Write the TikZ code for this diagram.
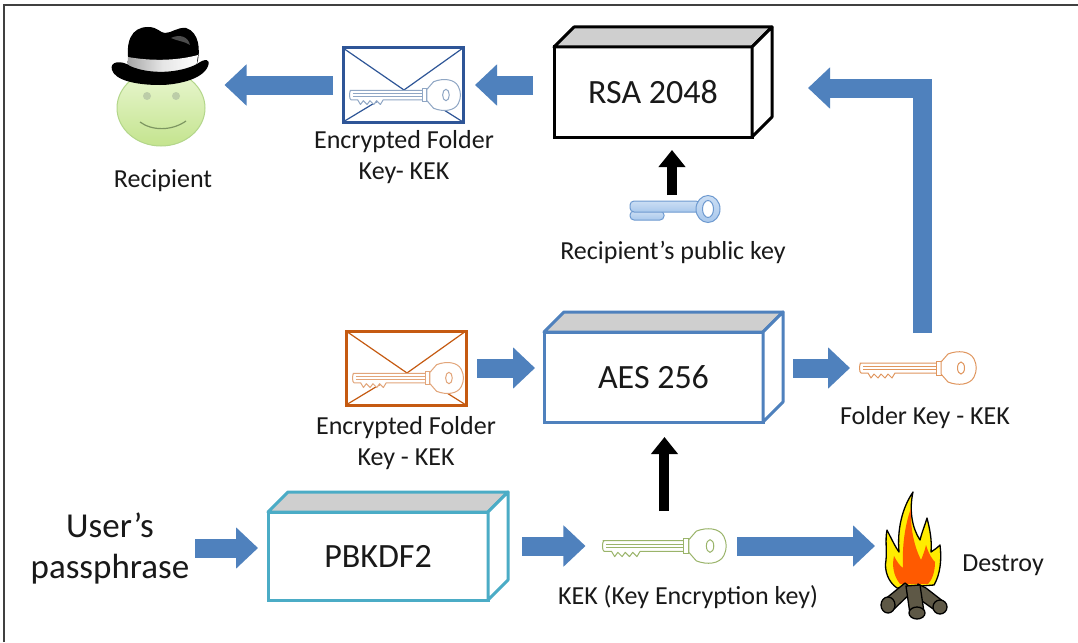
\documentclass[tikz,border=0pt]{standalone}
\usepackage{fontspec}
\setmainfont{Carlito}
\usetikzlibrary{arrows.meta,calc}

\definecolor{flowblue}{HTML}{4F81BD}
\definecolor{tealbox}{HTML}{4BACC6}
\definecolor{envblue}{HTML}{2E5597}
\definecolor{envkeyblue}{HTML}{8FA6C4}
\definecolor{envorange}{HTML}{C55A11}
\definecolor{envkeyorange}{HTML}{E2A57A}
\definecolor{keyorange}{HTML}{E0965E}
\definecolor{keygreen}{HTML}{9AB46A}
\definecolor{topgrey}{HTML}{CFCFCF}
\definecolor{pubfill}{HTML}{A9C8EC}
\definecolor{publine}{HTML}{6E9AD0}
\definecolor{facelight}{HTML}{EAF7D2}
\definecolor{facedark}{HTML}{C4E48E}
\definecolor{faceline}{HTML}{B3D68A}
\definecolor{logbrown}{HTML}{5E5846}
\definecolor{flameyellow}{HTML}{FFEC00}
\definecolor{flameorange}{HTML}{FF5A00}

\tikzset{
  fatarrow/.style={draw=flowblue, line width=19pt, line join=miter,
    -{Triangle[length=22pt,width=40pt]}},
  blackarrow/.style={draw=black, line width=10pt,
    -{Triangle[length=17pt,width=26pt]}},
  lbl/.style={font=\fontsize{26}{31}\selectfont, align=center, text=black!90},
  cubefront/.style={draw=#1, line width=3pt, fill=white, inner sep=0pt,
    outer sep=0pt, font=\fontsize{34}{40}\selectfont, text=black!90},
  % outline key drawn from its left end, pointing right
  pics/okey/.style={code={
    \draw[#1, line width=1pt, fill=white, line join=round]
      (0,-5) -- (79,-5) -- (79,5) -- (35,5) -- (32,10) -- (28,6) -- (25,10)
      -- (21,6) -- (18,10) -- (14,6) -- (11,10) -- (8,5) -- (1,5)
      .. controls (-1,5) and (-1,-5) .. (1,-5) -- cycle;
    \draw[#1, line width=0.6pt] (3,-2) -- (77,-2) (3,1.5) -- (77,1.5);
    \draw[#1, line width=1pt, fill=white] (76,-7) rectangle (81,7);
    \draw[#1, line width=1pt, fill=white, line join=round]
      (81,-6) -- (88,-14) .. controls (98,-18) and (110,-17) .. (114,-9)
      .. controls (117,-3) and (117,3) .. (114,9)
      .. controls (110,17) and (98,18) .. (88,14) -- (81,6) -- cycle;
    \draw[#1, line width=1pt] (101,0) ellipse [x radius=3.5, y radius=6];
    \node[inner sep=0pt, outer sep=0pt, minimum width=116pt,
      minimum height=30pt] (-kbox) at (58,0) {};
  }},
  % envelope with a key laid over its flap
  pics/envelope/.style 2 args={code={
    \node[inner sep=0pt, outer sep=0pt, minimum width=120pt,
      minimum height=74pt] (-box) at (0,0) {};
    \draw[#1, line width=1.2pt] (-60,-37) -- (1,5) -- (60,-37)
      (-60,37) -- (-12,8) (60,37) -- (14,8);
    \pic[scale=0.95] at (-53,10) {okey={#2}};
    \draw[#1, line width=3pt] (-60,-37) rectangle (60,37);
  }}
}

% grey top face and white side face of a box drawn behind its front node
\newcommand\boxfaces[2]{%
  \draw[#2, line width=3pt, line join=round, fill=topgrey]
    (#1.north west) -- ($(#1.north west)+(20,-20)$)
    -- ($(#1.north east)+(20,-20)$) -- (#1.north east) -- cycle;
  \draw[#2, line width=3pt, line join=round, fill=white]
    (#1.north east) -- ($(#1.north east)+(20,-20)$)
    -- ($(#1.south east)+(20,-20)$) -- (#1.south east) -- cycle;}

\begin{document}
\begin{tikzpicture}[x=1pt, y=-1pt]
  \useasboundingbox (0,0) rectangle (1078,642);
  \fill[white] (0,0) rectangle (1078,642);
  \draw[line width=1.3pt, black!75] (4,642) -- (4,5) -- (1078,5);

  % ---------- recipient ----------
  \node[inner sep=0pt, outer sep=0pt, minimum width=87pt, minimum height=78pt]
    (rec) at (161,109) {};
  \shade[top color=facelight, bottom color=facedark, draw=faceline, line width=1pt]
    (161,108) ellipse [x radius=44, y radius=38];
  \fill[faceline!80!black!60] (147,96) circle [radius=4] (176,96) circle [radius=4];
  \draw[faceline!70!black, line width=1.2pt]
    (140,122) .. controls (152,131) and (172,131) .. (186,121);
  % hat
  \fill[black] (129,64) .. controls (125,42) and (131,27) .. (148,27)
    .. controls (158,27) and (160,33) .. (165,33)
    .. controls (172,33) and (177,27) .. (186,28)
    .. controls (199,32) and (201,50) .. (197,64) -- cycle;
  \fill[black!70] (171,38) .. controls (179,34) and (188,36) .. (190,45)
    .. controls (184,41) and (177,41) .. (171,38) -- cycle;
  \shade[left color=black!35, right color=white, middle color=black!10]
    (128,57) .. controls (150,61) and (176,61) .. (198,55) -- (196,68)
    .. controls (175,73) and (150,73) .. (127,70) -- cycle;
  \fill[black] (112,70) .. controls (109,61) and (122,60) .. (130,66)
    .. controls (150,75) and (180,73) .. (197,64)
    .. controls (205,58) and (211,59) .. (208,66)
    .. controls (203,80) and (175,85) .. (160,85)
    .. controls (135,85) and (115,80) .. (112,70) -- cycle;
  \node[lbl] (reclabel) at (163,181) {Recipient};

  % ---------- envelopes ----------
  \pic (env1) at (403,85) {envelope={envblue}{envkeyblue}};
  \node[lbl] (env1label) at (404,157) {Encrypted Folder\\Key- KEK};
  \pic (env2) at (406,368) {envelope={envorange}{envkeyorange}};
  \node[lbl] (env2label) at (406,443) {Encrypted Folder\\Key - KEK};

  % ---------- cipher boxes ----------
  \node[cubefront=black, minimum width=198pt, minimum height=90pt]
    (rsa) at (653,92) {RSA 2048};
  \boxfaces{rsa}{black}
  \node[cubefront=flowblue, minimum width=219pt, minimum height=90pt]
    (aes) at (653.5,377) {AES 256};
  \boxfaces{aes}{flowblue}
  \node[cubefront=tealbox, minimum width=220pt, minimum height=88pt]
    (pb) at (378,556) {PBKDF2};
  \boxfaces{pb}{tealbox}

  % ---------- recipient's public key ----------
  \node[inner sep=0pt, outer sep=0pt, minimum width=92pt, minimum height=26pt]
    (pub) at (674,210) {};
  \shade[top color=pubfill!60, bottom color=pubfill, draw=publine, line width=1pt,
    rounded corners=4] (630,211) rectangle (664,220);
  \shade[top color=pubfill!60, bottom color=pubfill, draw=publine, line width=1pt,
    rounded corners=4] (630,201) rectangle (700,212);
  \shade[top color=pubfill!60, bottom color=pubfill, draw=publine, line width=1pt,
    even odd rule] (708,209) ellipse [x radius=12, y radius=13.5]
    (708,209) ellipse [x radius=5.5, y radius=8.5];
  \node[lbl] (publabel) at (673,252) {Recipient’s public key};

  % ---------- plain keys ----------
  \pic (fk) at (860,368) {okey=keyorange};
  \node[lbl] (fklabel) at (925,418) {Folder Key - KEK};
  \pic[scale=1.06] (kek) at (603,546) {okey=keygreen};
  \node[lbl] (keklabel) at (688,597) {KEK (Key Encryption key)};

  % ---------- passphrase ----------
  \node[font=\fontsize{35}{41}\selectfont, align=center, text=black!90]
    (pass) at (110,548) {User’s\\passphrase};

  % ---------- fire ----------
  \node[inner sep=0pt, outer sep=0pt, minimum width=60pt, minimum height=120pt]
    (fire) at (913,552) {};
  \draw[black, line width=1.3pt, fill=flameyellow, line join=round]
    (897,588) .. controls (888,582) and (884,570) .. (886,560)
    .. controls (887,550) and (885,540) .. (887,530)
    .. controls (892,540) and (896,548) .. (899,552)
    .. controls (897,530) and (902,508) .. (913,492)
    .. controls (909,510) and (912,528) .. (920,540)
    .. controls (922,532) and (925,525) .. (927,518)
    .. controls (930,530) and (932,540) .. (931,552)
    .. controls (934,550) and (937,548) .. (940,545)
    .. controls (942,560) and (940,575) .. (934,585) -- cycle;
  \fill[flameorange]
    (900,584) .. controls (893,575) and (892,565) .. (894,556)
    .. controls (897,562) and (900,566) .. (903,568)
    .. controls (902,545) and (905,525) .. (911,508)
    .. controls (910,530) and (915,548) .. (921,560)
    .. controls (923,555) and (925,550) .. (926,545)
    .. controls (929,555) and (933,560) .. (935,562)
    .. controls (935,572) and (932,580) .. (928,584) -- cycle;
  \draw[black, line width=1.3pt, fill=logbrown, line join=round]
    (905,583) -- (914,590) -- (893,610) -- (884,600) -- cycle;
  \draw[black, line width=1.3pt, fill=logbrown] (888,605) ellipse [x radius=7, y radius=8];
  \draw[black, line width=1.3pt, fill=logbrown, line join=round]
    (918,584) -- (926,588) -- (944,602) -- (936,611) -- (915,596) -- cycle;
  \draw[black, line width=1.3pt, fill=logbrown] (940,607) ellipse [x radius=7, y radius=7];
  \draw[black, line width=1.3pt, fill=logbrown, line join=round]
    (906,586) -- (920,585) -- (924,612) -- (910,614) -- cycle;
  \draw[black, line width=1.3pt, fill=logbrown] (917,613) ellipse [x radius=8, y radius=6];
  \node[lbl] (firelabel) at (1003,565) {Destroy};

  % ---------- connectors ----------
  \draw[fatarrow] ($(env1-box.west)+(-10,0)$) -- ($(rec.east |- env1-box.west)+(20,0)$);
  \draw[fatarrow] ($(rsa.west |- env1-box.east)+(-21,0)$) -- ($(env1-box.east)+(12,0)$);
  \draw[blackarrow] ($(pub.north)+(-2,-2)$) -- ($(rsa.south -| pub.north)+(-2,13)$);
  \draw[fatarrow] ($(env2-box.east)+(11,0)$) -- ($(aes.west |- env2-box.east)+(-9,0)$);
  \draw[fatarrow] ($(aes.east |- fk-kbox.west)+(30,0)$) -- ($(fk-kbox.west)+(-10,0)$);
  \draw[fatarrow] ($(fk-kbox.north)+(4,-20)$) |- ($(rsa.east)+(56,-4)$);
  \draw[fatarrow] ($(pb.west |- pass.east)+(-73,0)$) -- ($(pb.west |- pass.east)+(-10,0)$);
  \draw[fatarrow] ($(pb.east |- kek-kbox.west)+(34,0)$) -- ($(kek-kbox.west)+(-21,0)$);
  \draw[blackarrow] ($(kek-kbox.north)+(0,-20)$) -- ($(aes.south -| kek-kbox.north)+(0,15)$);
  \draw[fatarrow] ($(kek-kbox.east)+(15,0)$) -- ($(fire.west |- kek-kbox.east)+(-8,0)$);
\end{tikzpicture}
\end{document}
